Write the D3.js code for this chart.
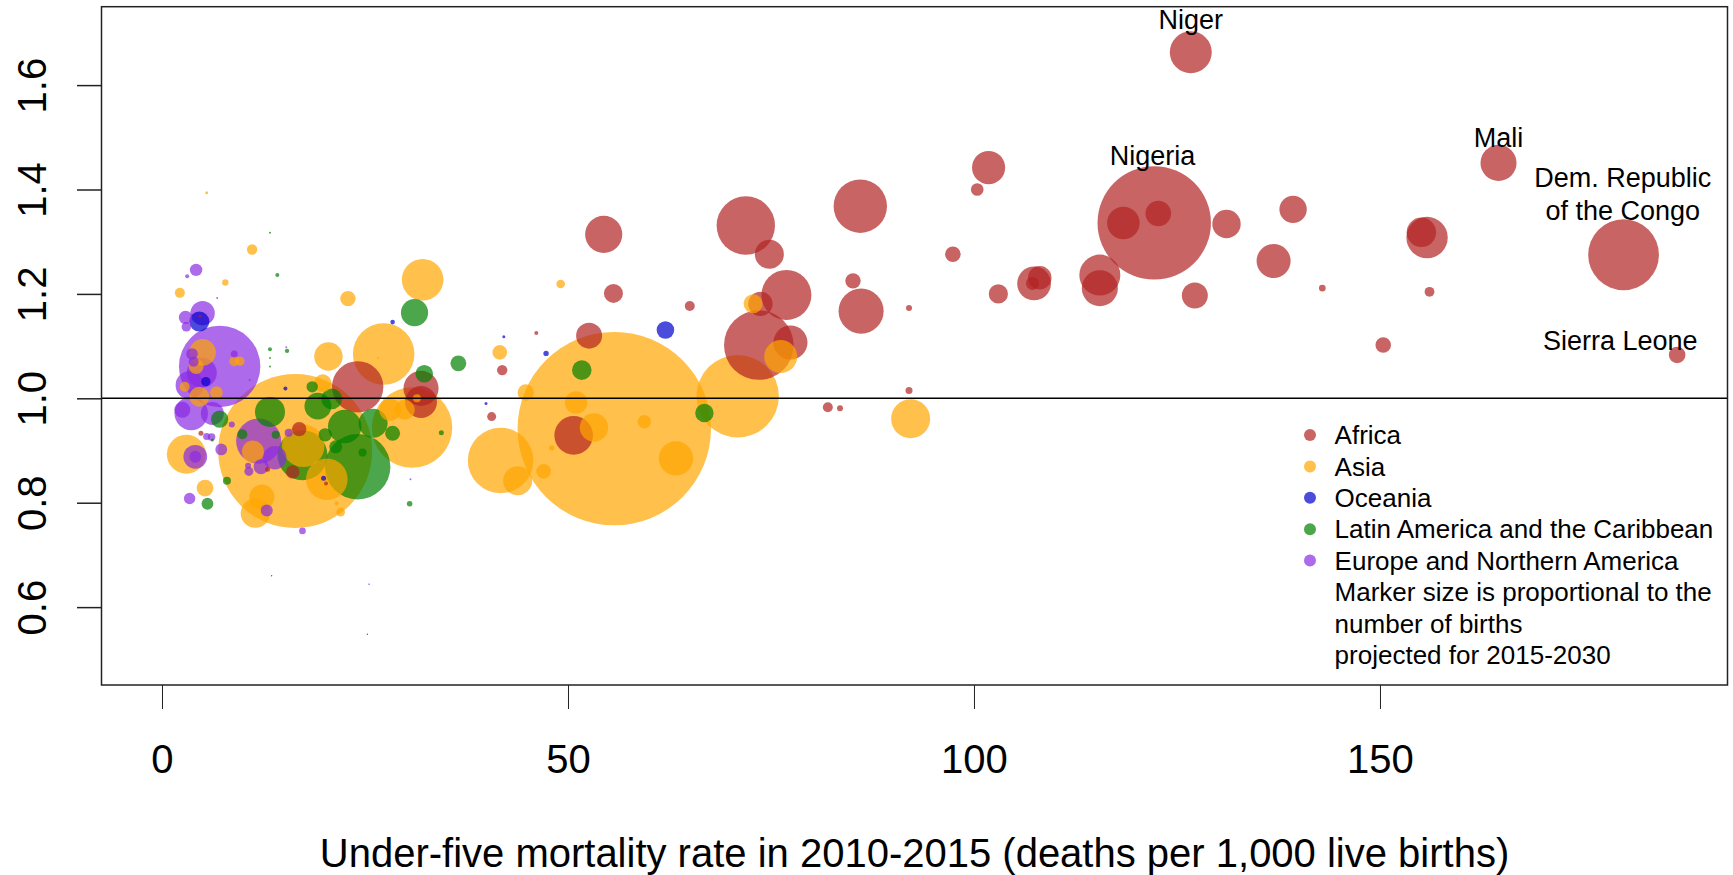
<!DOCTYPE html>
<html>
<head>
  <meta charset="utf-8" />
  <title>Under-five mortality and births</title>
  <script type="text/javascript" src="https://cdnjs.cloudflare.com/ajax/libs/d3/7.8.5/d3.min.js"></script>
  <style>
    body {
      margin: 0;
      background-color: #ffffff;
    }
    svg text {
      font-family: "Liberation Sans", Arial, sans-serif;
      fill: #000;
    }
  </style>
</head>
<body>
  <div id="chart"></div>
  <script type="text/javascript">
    var regions = ["Africa", "Asia", "Oceania", "Latin America and the Caribbean", "Europe and Northern America"];
    var regionColors = ["#b22222", "#ffa500", "#0000cd", "#008000", "#8a2be2"];

    // [under-five mortality 2010-2015, ratio, births 2015-2030 (millions)]
    var africa = [
      [126.7, 1.663, 17.6], [122.2, 1.336, 128.6], [118.4, 1.336, 10.6], [122.7, 1.354, 6.55],
      [164.6, 1.451, 13.0], [180.0, 1.275, 50.1], [186.6, 1.083, 2.76], [101.8, 1.442, 11.0],
      [100.4, 1.400, 1.59], [97.4, 1.276, 2.43], [103.0, 1.200, 3.69], [107.4, 1.220, 11.4],
      [108.1, 1.231, 5.57], [107.2, 1.220, 1.69], [115.5, 1.236, 16.8], [115.5, 1.211, 13.0],
      [131.1, 1.334, 8.07], [139.3, 1.362, 7.5], [136.9, 1.263, 11.6], [127.2, 1.197, 6.76],
      [142.9, 1.211, 0.44], [150.4, 1.102, 2.43], [155.8, 1.308, 17.1], [155.1, 1.318, 8.64],
      [156.1, 1.204, 0.96], [92.0, 1.173, 0.36], [92.0, 1.015, 0.49], [71.9, 1.331, 34.1],
      [74.8, 1.276, 8.41], [76.9, 1.198, 25.0], [73.7, 1.181, 5.95], [73.5, 1.102, 48.4],
      [77.4, 1.107, 11.6], [86.0, 1.368, 28.5], [85.1, 1.225, 2.37], [86.1, 1.167, 20.3],
      [82.0, 0.983, 1.0], [83.5, 0.981, 0.36], [54.4, 1.314, 13.8], [55.6, 1.201, 3.61],
      [65.0, 1.177, 1.0], [52.6, 1.120, 6.76], [41.9, 1.054, 1.08], [46.1, 1.125, 0.16],
      [31.9, 1.019, 12.3], [31.9, 0.993, 10.2], [24.1, 1.022, 26.4], [40.6, 0.965, 0.81],
      [50.7, 0.929, 14.9], [16.9, 0.941, 2.07], [16.1, 0.859, 1.8], [13.0, 0.864, 0.25],
      [20.2, 0.837, 0.16], [4.8, 0.933, 0.25], [4.7, 1.157, 0.09]
    ];
    var asia = [
      [55.7, 0.942, 374], [16.4, 0.899, 237], [70.9, 1.004, 67.9], [41.7, 0.881, 43.0],
      [30.8, 0.944, 64.6], [27.3, 1.085, 37.9], [32.1, 1.227, 17.3], [92.2, 0.961, 15.2],
      [76.2, 1.080, 10.9], [72.8, 1.181, 3.61], [63.3, 0.885, 11.8], [59.4, 0.955, 1.8],
      [53.2, 0.944, 8.07], [51.0, 0.992, 5.0], [44.8, 1.011, 2.69], [48.0, 0.905, 0.29],
      [47.0, 0.860, 2.13], [43.8, 0.842, 8.41], [41.6, 1.088, 2.13], [49.1, 1.219, 0.74],
      [22.9, 1.191, 2.37], [11.1, 1.285, 1.08], [7.8, 1.222, 0.41], [2.2, 1.202, 1.0],
      [5.5, 1.394, 0.09], [20.5, 1.080, 8.07], [19.8, 1.029, 3.1], [17.4, 0.909, 18.0],
      [20.3, 0.845, 17.3], [3.0, 0.893, 15.2], [5.3, 0.828, 2.82], [12.3, 0.811, 6.25],
      [11.5, 0.780, 8.64], [22.0, 0.782, 0.77], [21.5, 0.799, 0.16], [5.0, 1.088, 7.08],
      [4.2, 1.061, 2.25], [8.9, 1.071, 1.0], [9.6, 1.071, 0.88], [6.7, 1.011, 1.59],
      [2.8, 1.022, 1.0], [4.6, 1.003, 4.0], [11.2, 0.898, 4.84], [28.1, 0.978, 4.84],
      [29.9, 0.978, 4.0], [31.4, 1.000, 0.64], [26.6, 1.077, 0.04]
    ];
    var oceania = [
      [62.0, 1.131, 3.1], [4.6, 1.147, 4.0], [5.4, 1.032, 0.88], [47.3, 1.086, 0.29],
      [42.1, 1.118, 0.09], [39.9, 0.990, 0.09], [28.4, 1.146, 0.21], [15.2, 1.019, 0.16],
      [19.9, 0.847, 0.25], [25.3, 0.548, 0.02], [25.5, 0.644, 0.02], [13.5, 0.660, 0.02]
    ];
    var latin = [
      [24.1, 0.869, 42.8], [17.3, 0.891, 25.0], [31.1, 1.164, 7.4], [36.5, 1.067, 2.5],
      [32.3, 1.047, 3.1], [51.7, 1.054, 3.84], [66.8, 0.972, 3.39], [13.3, 0.974, 9.0],
      [19.2, 0.985, 7.18], [20.9, 0.999, 4.33], [22.5, 0.946, 11.2], [26.0, 0.952, 8.41],
      [28.4, 0.933, 2.25], [18.5, 1.022, 1.3], [20.1, 0.930, 1.8], [21.4, 0.907, 1.69],
      [24.7, 0.896, 0.64], [9.9, 0.931, 1.0], [14.0, 0.930, 0.64], [7.1, 0.960, 2.96],
      [5.6, 0.798, 1.39], [8.0, 0.842, 0.64], [34.4, 0.934, 0.25], [30.5, 0.798, 0.31],
      [13.3, 1.094, 0.16], [15.4, 1.091, 0.19], [14.2, 1.236, 0.16], [13.3, 1.317, 0.04],
      [13.3, 1.077, 0.04], [13.3, 1.061, 0.04], [6.2, 0.920, 0.09]
    ];
    var europe = [
      [7.1, 1.061, 66.3], [5.0, 1.163, 5.95], [2.9, 1.155, 1.8], [3.0, 1.137, 0.92],
      [4.2, 1.246, 1.54], [3.1, 1.234, 0.16], [6.8, 1.192, 0.04], [3.7, 1.085, 1.35],
      [3.9, 1.070, 1.0], [4.9, 1.049, 9.0], [3.4, 1.025, 7.84], [8.9, 1.085, 0.49],
      [10.8, 1.035, 0.04], [3.6, 0.971, 11.2], [6.2, 0.971, 5.29], [11.9, 0.918, 20.3],
      [13.9, 0.886, 5.48], [12.2, 0.869, 2.25], [10.7, 0.860, 0.81], [15.6, 0.934, 0.64],
      [7.3, 0.902, 1.39], [8.6, 0.950, 0.36], [4.1, 0.888, 5.66], [4.1, 0.888, 1.44],
      [3.4, 0.808, 1.3], [5.5, 0.927, 0.49], [6.1, 0.926, 0.58], [12.9, 0.785, 1.44],
      [17.3, 0.746, 0.44], [10.6, 0.871, 0.36], [30.6, 0.845, 0.04], [15.3, 1.098, 0.04],
      [2.5, 0.978, 2.56]
    ];

    var xTicks = [0, 50, 100, 150];
    var yTicks = [0.6, 0.8, 1.0, 1.2, 1.4, 1.6];

    // country labels: [text, x, y] in data units (text centre)
    var labels = [
      ["Niger", 126.7, 1.725], ["Nigeria", 122.0, 1.465], ["Mali", 164.6, 1.500],
      ["Dem. Republic", 179.9, 1.422], ["of the Congo", 179.9, 1.360], ["Sierra Leone", 179.6, 1.111]
    ];
    var noteLines = ["Marker size is proportional to the", "number of births", "projected for 2015-2030"];
    var xTitle = "Under-five mortality rate in 2010-2015 (deaths per 1,000 live births)";

    var W = 1733, H = 875;
    var pLeft = 101.5, pRight = 1727.5, pTop = 6.7, pBottom = 685;

    var svg = d3.select("#chart").append("svg")
      .attr("width", W)
      .attr("height", H);

    var x = d3.scaleLinear().domain([-7.45, 192.8]).range([pLeft, pRight]);
    var y = d3.scaleLinear().domain([0.4508, 1.7502]).range([pBottom, pTop]);
    var r = d3.scaleSqrt().domain([0, 400]).range([0, 100]);

    // all points, biggest drawn first
    var points = [];
    [africa, asia, oceania, latin, europe].forEach(function (arr, i) {
      arr.forEach(function (d) {
        points.push({ x: d[0], y: d[1], b: d[2], g: i });
      });
    });
    points.sort(function (a, b) { return b.b - a.b; });

    svg.append("clipPath").attr("id", "plotclip")
      .append("rect")
      .attr("x", pLeft).attr("y", pTop)
      .attr("width", pRight - pLeft).attr("height", pBottom - pTop);

    svg.append("g")
      .attr("clip-path", "url(#plotclip)")
      .selectAll("circle")
      .data(points)
      .enter()
      .append("circle")
      .attr("cx", function (d) { return x(d.x); })
      .attr("cy", function (d) { return y(d.y); })
      .attr("r", function (d) { return r(d.b); })
      .attr("fill", function (d) { return regionColors[d.g]; })
      .attr("fill-opacity", 0.7);

    // reference line at 1
    svg.append("line")
      .attr("x1", pLeft).attr("x2", pRight)
      .attr("y1", y(1)).attr("y2", y(1))
      .attr("stroke", "#000")
      .attr("stroke-width", 1.5);

    // box
    svg.append("rect")
      .attr("x", pLeft).attr("y", pTop)
      .attr("width", pRight - pLeft).attr("height", pBottom - pTop)
      .attr("fill", "none")
      .attr("stroke", "#222")
      .attr("stroke-width", 1.5);

    // x axis
    var gx = svg.append("g")
      .attr("transform", "translate(0," + pBottom + ")")
      .call(d3.axisBottom(x).tickValues(xTicks).tickSize(24).tickPadding(35.5));
    gx.select(".domain").remove();
    gx.selectAll("line").attr("stroke", "#222").attr("stroke-width", 1);
    gx.selectAll("text").attr("font-size", "40px").attr("fill", "#000");

    // y axis
    var gy = svg.append("g")
      .attr("transform", "translate(" + pLeft + ",0)")
      .call(d3.axisLeft(y).tickValues(yTicks).tickSize(24.5).tickFormat(d3.format(".1f")));
    gy.select(".domain").remove();
    gy.selectAll("line").attr("stroke", "#222").attr("stroke-width", 1.5);
    gy.selectAll("text")
      .attr("x", 0).attr("y", 0).attr("dy", null)
      .attr("text-anchor", "middle")
      .attr("transform", "translate(" + (46 - pLeft) + ",0) rotate(-90)")
      .attr("font-size", "40px")
      .attr("fill", "#000");

    svg.append("text")
      .attr("x", (pLeft + pRight) / 2)
      .attr("y", 867)
      .attr("text-anchor", "middle")
      .attr("font-size", "40px")
      .text(xTitle);

    // country labels
    svg.append("g").selectAll("text")
      .data(labels)
      .enter()
      .append("text")
      .attr("x", function (d) { return x(d[1]); })
      .attr("y", function (d) { return y(d[2]); })
      .attr("dy", "0.35em")
      .attr("text-anchor", "middle")
      .attr("font-size", "27px")
      .text(function (d) { return d[0]; });

    // legend
    var lg = svg.append("g").attr("transform", "translate(1310,435)");
    var rowH = 31.4;
    lg.selectAll("circle")
      .data(regions)
      .enter()
      .append("circle")
      .attr("cx", 0)
      .attr("cy", function (d, i) { return i * rowH; })
      .attr("r", 6)
      .attr("fill", function (d, i) { return regionColors[i]; })
      .attr("fill-opacity", 0.7);
    lg.selectAll("text")
      .data(regions.concat(noteLines))
      .enter()
      .append("text")
      .attr("x", 24.6)
      .attr("y", function (d, i) { return i * rowH; })
      .attr("dy", "0.35em")
      .attr("font-size", "26px")
      .text(function (d) { return d; });
  </script>
</body>
</html>
